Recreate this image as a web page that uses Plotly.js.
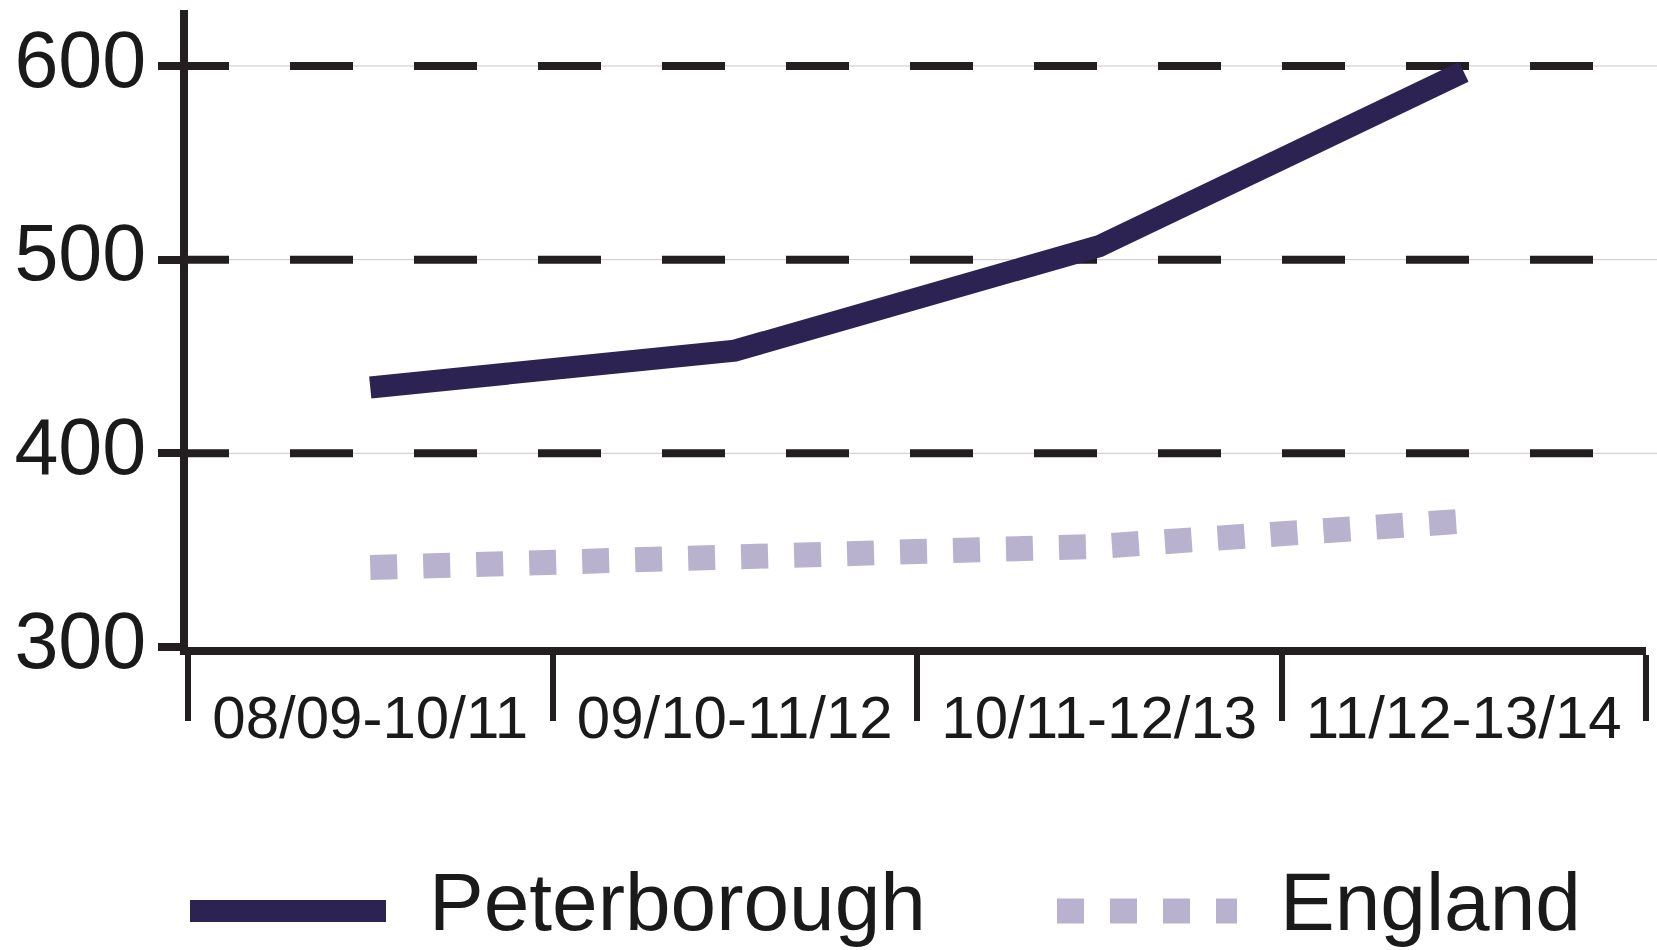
<!DOCTYPE html>
<html>
<head>
<meta charset="utf-8">
<script src="https://cdn.plot.ly/plotly-3.0.1.min.js"></script>
<style>
  html, body { margin: 0; padding: 0; background: #ffffff; }
  #chart { width: 1657px; height: 950px; }
</style>
</head>
<body>
<div id="chart"></div>
<script>
// Three-year rolling periods
const periods = ['08/09-10/11', '09/10-11/12', '10/11-12/13', '11/12-13/14'];

// Rates per period
const peterborough = [434, 453, 507, 597];
const england = [341, 345, 352, 365];

// Value axis ticks and the levels that carry dashed reference lines
const yTicks = [300, 400, 500, 600];
const dashedLevels = [400, 500, 600];

const W = 1657, H = 950;
const margin = { l: 188, r: 11, t: 10, b: 303, pad: 0, autoexpand: false };
const plotWidth = W - margin.l - margin.r;
const plotHeight = H - margin.t - margin.b;
const pxPerCat = plotWidth / periods.length;

// page pixel -> paper coordinates
const px = v => (v - margin.l) / plotWidth;
const py = v => (H - margin.b - v) / plotHeight;

const ink = '#231f20';
const FONT = 'Liberation Sans, Arial, Helvetica, sans-serif';

const series = [
  { name: 'Peterborough', y: peterborough, line: { color: '#2c2352', width: 22 } },
  { name: 'England', y: england, line: { color: '#b9b2ce', width: 25, dash: '27px,26px' } }
];

const traces = series.map(s => ({
  x: periods,
  y: s.y,
  name: s.name,
  type: 'scatter',
  mode: 'lines',
  line: s.line,
  hoverinfo: 'skip'
}));

const tickLen = 22;
const shapes = [];

// thin light grid lines running on to the right edge
dashedLevels.forEach(v => shapes.push({
  type: 'line', xref: 'paper', yref: 'y',
  x0: 0, x1: px(W), y0: v, y1: v,
  line: { color: '#cbc7c7', width: 1 },
  layer: 'below'
}));

// long black dashes over them, starting at the tick mark
dashedLevels.forEach(v => shapes.push({
  type: 'line', xref: 'x', yref: 'y',
  x0: -0.5 - tickLen / pxPerCat, x1: periods.length - 0.5,
  y0: v, y1: v,
  line: { color: ink, width: 8, dash: '63px,61px' },
  layer: 'below'
}));

// legend keys
const legendRow = 911;
const legendKeys = [
  { s: series[0], from: 190, to: 386, text: 428 },
  { s: series[1], from: 1057, to: 1237, text: 1279 }
];
const annotations = [];
legendKeys.forEach(k => {
  shapes.push({
    type: 'line', xref: 'paper', yref: 'paper',
    x0: px(k.from), x1: px(k.to), y0: py(legendRow), y1: py(legendRow),
    line: k.s.line,
    layer: 'above'
  });
  annotations.push({
    xref: 'paper', yref: 'paper',
    x: px(k.text), y: py(legendRow - 10),
    xanchor: 'left', yanchor: 'middle',
    text: k.s.name,
    showarrow: false,
    borderpad: 0,
    font: { family: FONT, size: 82, color: '#1a1a1a' }
  });
});

const layout = {
  width: W,
  height: H,
  margin: margin,
  paper_bgcolor: '#ffffff',
  plot_bgcolor: 'rgba(0,0,0,0)',
  font: { family: FONT, color: '#1a1a1a' },
  showlegend: false,
  xaxis: {
    type: 'category',
    range: [-0.5, periods.length - 0.5],
    showline: true,
    linecolor: ink,
    linewidth: 8,
    ticks: 'outside',
    tickson: 'boundaries',
    ticklen: 66,
    tickwidth: 6,
    tickcolor: ink,
    ticklabelstandoff: 11,
    tickfont: { family: FONT, size: 60, color: '#1a1a1a' },
    showgrid: false,
    zeroline: false,
    fixedrange: true
  },
  yaxis: {
    range: [300, 628.9],
    tickmode: 'array',
    tickvals: yTicks,
    ticktext: yTicks.map(String),
    showline: true,
    linecolor: ink,
    linewidth: 8,
    ticks: 'outside',
    ticklen: tickLen,
    tickwidth: 8,
    tickcolor: ink,
    ticklabelstandoff: -4,
    ticklabelshift: -7,
    tickfont: { family: FONT, size: 79, color: '#1a1a1a' },
    showgrid: false,
    zeroline: false,
    fixedrange: true
  },
  shapes: shapes,
  annotations: annotations
};

Plotly.newPlot('chart', traces, layout, { displayModeBar: false, staticPlot: true });
</script>
</body>
</html>
